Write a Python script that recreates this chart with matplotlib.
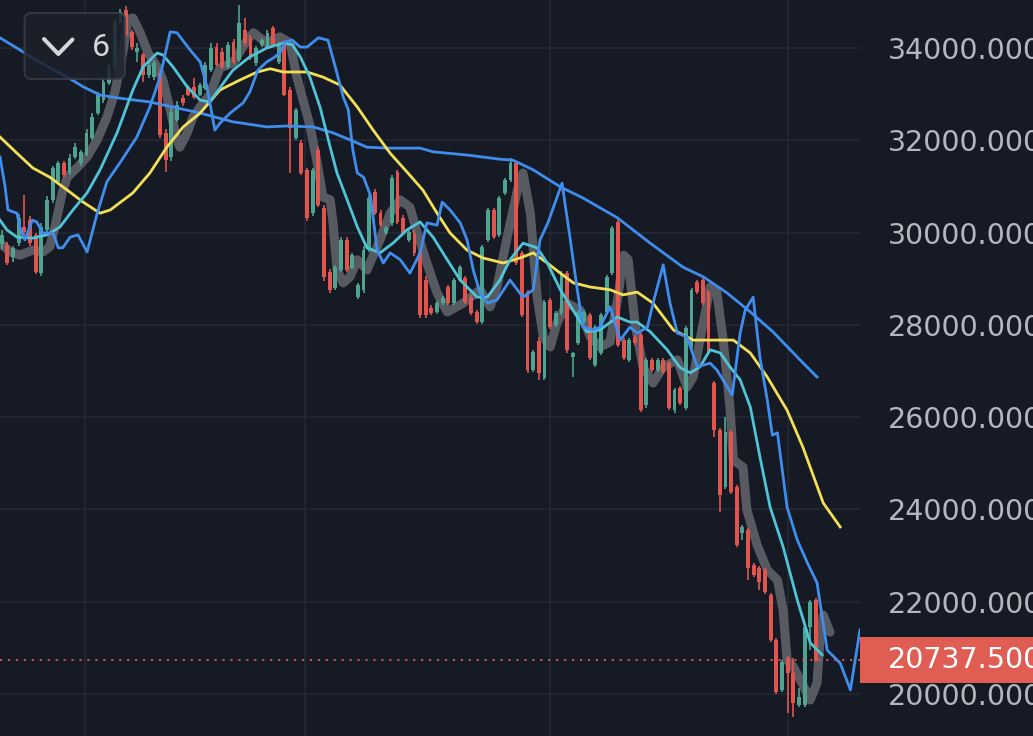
import matplotlib
matplotlib.use("Agg")
import matplotlib.pyplot as plt
from matplotlib.patches import Rectangle, FancyBboxPatch
from matplotlib.lines import Line2D
import matplotlib.transforms as mtransforms

# --- candles (open, high, low, close), one per bar ---
opens = [29750, 29730, 29470, 29770, 30120, 30270, 29950, 29120, 30060, 30710,
         31100, 31510, 31310, 31640, 31510, 31680, 32050, 32590, 32870, 33240,
         33590, 34540, 34820, 34350, 33910, 33850, 33420, 33370, 33460, 32160,
         31640, 32440, 32920, 33150, 33160, 32980, 33130, 33520, 34020, 33910,
         33590, 34130, 33740, 34390, 34220, 33680, 34070, 34020, 34430, 33700,
         34110, 33090, 32050, 31940, 31360, 30420, 31790, 30530, 29150, 28800,
         29190, 29840, 29230, 28600, 28760, 29620, 30880, 30420, 29990, 30210,
         31310, 30320, 29840, 29990, 29580, 28970, 28370, 28280, 28470, 28820,
         28470, 28970, 29020, 28600, 28280, 28060, 29840, 30490, 29950, 30860,
         31140, 31510, 29560, 28710, 27020, 27650, 26850, 28540, 28000, 28260,
         29120, 27300, 27610, 28060, 28210, 27130, 27390, 28280, 29120, 30230,
         27670, 27240, 27740, 27780, 26260, 27240, 27020, 27240, 27170, 26150,
         26630, 26200, 27520, 28930, 28970, 28710, 26740, 25720, 24490, 25680,
         24490, 23490, 23550, 22800, 22730, 22690, 22150, 21170, 20090, 20780,
         20460, 19760, 19760, 21450, 22040]
highs = [30050, 29800, 29700, 30400, 30810, 30350, 30000, 30200, 30800, 31450,
         31550, 31550, 31700, 31950, 31800, 32250, 32600, 33050, 33350, 33650,
         34600, 34850, 34900, 34400, 34110, 33900, 33700, 33750, 33550, 32250,
         32700, 32850, 32980, 33200, 33350, 33250, 33700, 34100, 34100, 34000,
         34130, 34200, 34930, 34650, 34280, 34050, 34220, 34400, 34480, 34130,
         34160, 33150, 32700, 32000, 31400, 31400, 31850, 30600, 29200, 29300,
         29900, 29900, 29560, 28900, 29700, 30820, 30950, 30480, 30150, 31250,
         31350, 30380, 30060, 30050, 29650, 29050, 28420, 28520, 28620, 28870,
         29020, 29300, 29060, 28650, 28320, 29740, 30540, 30540, 30800, 31190,
         31620, 31560, 29610, 28760, 27460, 27740, 28540, 28580, 28300, 29170,
         29170, 27410, 28320, 28320, 28260, 28000, 28260, 29080, 30140, 30280,
         27720, 27720, 27780, 27830, 27280, 27280, 27280, 27280, 27220, 26630,
         26680, 27980, 28800, 28970, 29020, 28760, 26780, 25760, 26000, 25720,
         24530, 23660, 23600, 22840, 22780, 22730, 22190, 21210, 20740, 20830,
         20780, 20130, 21500, 22040, 22080]
lows = [29650, 29300, 29360, 29700, 29950, 29700, 29100, 29050, 30000, 30650,
        31050, 31200, 31250, 31600, 31450, 31650, 32000, 32550, 32800, 33200,
        33550, 34500, 34250, 33950, 33700, 33260, 33350, 33300, 32050, 31310,
        31550, 32400, 32750, 32950, 32900, 32950, 33100, 33480, 33600, 33550,
        33550, 33650, 33700, 34050, 33750, 33620, 34020, 33980, 34020, 33650,
        32950, 31290, 32000, 31250, 30250, 30350, 30550, 28950, 28700, 28750,
        29150, 29150, 29200, 28550, 28700, 29580, 30380, 30120, 29950, 30150,
        30180, 29950, 29790, 29500, 28150, 28150, 28210, 28230, 28430, 28430,
        28430, 28930, 28450, 28210, 28020, 28020, 29790, 29860, 29900, 30810,
        31090, 29290, 28160, 26950, 26970, 26800, 26800, 27900, 27950, 28210,
        27400, 26870, 27560, 28020, 27230, 27080, 27340, 28230, 29080, 27520,
        27240, 27190, 27560, 26110, 26200, 26980, 26980, 26940, 26150, 26100,
        26260, 26150, 27470, 28670, 28430, 27360, 25570, 23940, 24440, 24330,
        23190, 23340, 22470, 22530, 22250, 22160, 21120, 20000, 20040, 19590,
        19500, 19720, 19720, 20950, 20700]
closes = [29950, 29340, 29660, 30320, 30010, 29770, 29150, 30120, 30710, 31400,
          31510, 31250, 31620, 31850, 31750, 32160, 32500, 32980, 33260, 33590,
          34540, 34780, 34280, 34020, 34000, 33420, 33630, 33680, 32110, 31570,
          32610, 32760, 32810, 32980, 32940, 33200, 33630, 34000, 33630, 33590,
          34070, 33700, 34540, 34110, 33780, 34000, 34170, 34330, 34070, 34070,
          32980, 32270, 32660, 31290, 30320, 31360, 30600, 29040, 28760, 29250,
          29840, 29190, 29510, 28860, 29620, 30750, 30420, 30160, 30100, 31180,
          30230, 29990, 30010, 29560, 28210, 28210, 28260, 28470, 28580, 28470,
          28970, 29250, 28500, 28260, 28060, 29690, 30490, 29900, 30750, 31140,
          31510, 29340, 28210, 27020, 27410, 26950, 28500, 27950, 28260, 29120,
          27460, 27400, 28280, 28280, 27280, 27950, 28210, 29040, 30100, 27560,
          27280, 27670, 27610, 26150, 27240, 27020, 27240, 26980, 26200, 26590,
          26310, 27930, 28760, 28710, 28470, 27410, 25720, 24310, 25680, 24380,
          23230, 23620, 22730, 22580, 22430, 22210, 21170, 20040, 20690, 20460,
          19810, 19940, 21450, 21990, 20737.5]
last_price = 20737.5

# --- moving averages, (bar, price) vertices ---
gray_ma = [(-0.3, 29770), (1.5, 29580), (3.2, 29510), (5.5, 29620), (7.3, 29580),
           (8.5, 29690), (9.4, 30120), (10.7, 30860), (11.6, 31200), (13.3, 31400),
           (15.1, 31640), (16.9, 32010), (18.6, 32500), (20.0, 33030), (21.5, 33960),
           (22.3, 34610), (23.2, 34650), (24.5, 34330), (25.9, 33890), (27.5, 33590),
           (28.5, 33310), (29.8, 32660), (31.0, 32010), (31.5, 31850), (32.8, 32160),
           (33.8, 32500), (35.6, 32810), (36.8, 32980), (38.6, 33570), (40.9, 33680),
           (43.4, 34170), (44.5, 34330), (46.9, 34110), (49.2, 34240), (51.0, 34110),
           (52.2, 33370), (53.3, 32870), (54.5, 32330), (55.8, 31510), (56.8, 30770),
           (58.1, 30710), (58.6, 30210), (59.3, 29190), (60.4, 28910), (61.6, 29040),
           (62.9, 29410), (64.6, 29190), (66.9, 29840), (68.7, 30420), (70.5, 30710),
           (72.2, 30550), (73.5, 29990), (75.2, 29340), (77.0, 28690), (78.8, 28280),
           (81.6, 28470), (84.6, 28760), (86.4, 28390), (87.6, 28820), (89.4, 29900),
           (91.2, 30920), (92.2, 31290), (93.5, 30420), (94.7, 28600), (95.8, 27740),
           (97.0, 27520), (98.2, 28040), (100.0, 28470), (102.3, 28320), (104.1, 27740),
           (105.8, 27520), (107.6, 27630), (108.9, 28540), (110.0, 29510), (110.8, 29410),
           (112.0, 28040), (113.4, 27090), (115.2, 26740), (117.0, 27090), (119.5, 27240),
           (121.2, 26650), (122.3, 26870), (123.5, 27670), (125.3, 28820), (126.5, 28690),
           (127.6, 27670), (128.8, 26220), (129.4, 25070), (131.1, 24920), (131.8, 23990),
           (133.6, 23230), (135.4, 22690), (137.2, 22470), (138.2, 21820), (138.9, 20740),
           (140.0, 20590), (141.7, 20200), (143.0, 19870), (144.2, 20240), (144.8, 21320),
           (145.3, 21710), (146.5, 21340)]

cyan_ma = [(-0.3, 30270), (0.9, 30060), (2.7, 29900), (5.5, 29880), (8.0, 29950),
           (10.3, 30120), (12.6, 30490), (15.1, 30860), (17.4, 31360), (20.4, 32160),
           (23.2, 33090), (25.0, 33590), (27.5, 33890), (28.5, 33850), (30.3, 33590),
           (32.8, 33160), (35.1, 32870), (36.8, 32830), (39.2, 33240), (40.9, 33520),
           (43.9, 33810), (46.9, 34000), (49.8, 34110), (51.4, 34070), (52.8, 33810),
           (54.5, 33370), (56.3, 32720), (58.1, 31850), (59.3, 31290), (61.1, 30710),
           (62.9, 30120), (64.6, 29670), (66.9, 29560), (69.2, 29770), (71.7, 30060),
           (74.0, 30230), (76.3, 29900), (78.8, 29410), (81.1, 28970), (84.1, 28600),
           (85.9, 28600), (88.1, 28970), (89.9, 29410), (92.2, 29770), (94.7, 29670),
           (96.5, 29340), (98.8, 28760), (101.8, 28170), (103.5, 27850), (105.8, 27890),
           (108.9, 28170), (111.1, 28060), (112.4, 28060), (114.7, 27850), (117.7, 27460),
           (120.0, 27070), (121.8, 26960), (123.5, 27090), (125.3, 27460), (127.1, 27390),
           (128.8, 27090), (130.6, 26810), (132.4, 26220), (134.1, 25140), (135.9, 24050),
           (138.2, 23190), (140.7, 22040), (143.0, 21110), (145.1, 20850)]

yellow_ma = [(-0.3, 32070), (2.7, 31720), (5.5, 31400), (8.5, 31200), (11.6, 30920),
             (14.4, 30660), (17.4, 30420), (19.2, 30490), (23.2, 30860), (26.2, 31290),
             (29.2, 31850), (32.1, 32290), (35.1, 32590), (38.6, 33090), (42.2, 33310),
             (45.2, 33480), (47.5, 33550), (49.8, 33480), (54.0, 33480), (56.8, 33370),
             (59.8, 33200), (62.9, 32720), (65.7, 32220), (68.7, 31720), (71.7, 31310),
             (74.5, 30920), (77.0, 30420), (79.3, 29990), (82.3, 29620), (85.1, 29450),
             (88.7, 29340), (91.7, 29450), (94.0, 29560), (96.5, 29340), (98.8, 29120),
             (101.1, 28910), (104.1, 28820), (107.6, 28760), (109.9, 28650), (112.4, 28710),
             (115.2, 28470), (118.8, 27890), (122.3, 27670), (125.3, 27670), (129.4, 27670),
             (132.4, 27390), (135.4, 26870), (138.9, 26150), (141.7, 25350), (145.3, 24140),
             (148.3, 23620)]

blue_slow_ma = [(-0.3, 34220), (3.2, 33960), (5.5, 33780), (8.5, 33570), (11.6, 33370),
                (14.4, 33160), (17.4, 32980), (20.4, 32920), (26.2, 32830), (30.3, 32720),
                (35.1, 32590), (40.9, 32400), (46.9, 32290), (50.5, 32310), (55.1, 32290),
                (58.6, 32160), (61.6, 32010), (64.6, 31850), (68.2, 31830), (74.0, 31830),
                (76.3, 31750), (82.3, 31680), (88.1, 31590), (90.4, 31570), (94.0, 31360),
                (98.8, 30990), (102.8, 30750), (108.9, 30320), (114.7, 29770), (120.5, 29250),
                (124.1, 29040), (128.3, 28690), (132.4, 28280), (136.4, 27850), (141.2, 27240),
                (144.2, 26870)]

blue_fast_ma = [(-0.3, 31640), (0.6, 30990), (1.1, 30490), (2.7, 30420), (3.2, 30120),
                (4.1, 29840), (5.4, 30270), (6.2, 30230), (7.3, 29990), (9.1, 29990),
                (10.0, 29670), (10.8, 29670), (12.1, 29900), (13.5, 29950), (15.1, 29580),
                (16.9, 30420), (18.6, 31100), (20.9, 31510), (23.9, 32070), (26.2, 32720),
                (28.0, 33370), (29.8, 34350), (31.0, 34330), (33.3, 33960), (35.1, 33700),
                (36.3, 33160), (37.7, 32220), (38.6, 32370), (40.4, 32590), (42.7, 32810),
                (43.9, 33050), (45.3, 33520), (46.9, 33700), (48.0, 33780), (49.2, 33890),
                (50.1, 34130), (51.4, 34170), (52.8, 34020), (54.0, 34020), (56.0, 34220),
                (57.7, 34170), (59.0, 33590), (60.4, 32940), (61.3, 32660), (62.1, 31790),
                (62.9, 31290), (64.0, 31200), (65.2, 30810), (66.4, 29620), (67.5, 29340),
                (68.7, 29560), (70.5, 29410), (72.2, 29120), (74.0, 29560), (75.2, 30210),
                (77.0, 30160), (77.9, 30660), (79.3, 30490), (81.1, 30210), (82.3, 29840),
                (83.4, 29190), (84.6, 28690), (85.9, 28470), (87.6, 28540), (89.9, 28970),
                (92.2, 28600), (94.0, 28760), (95.2, 29840), (96.6, 30210), (99.1, 31070),
                (100.5, 29900), (101.8, 28760), (102.8, 27950), (104.6, 27890), (105.8, 27950),
                (107.6, 28390), (109.4, 27670), (111.1, 27950), (112.4, 27820), (114.2, 27950),
                (115.2, 28470), (117.0, 29300), (118.2, 28470), (119.5, 27820), (121.2, 27740),
                (123.0, 27090), (125.3, 27170), (126.5, 27020), (129.2, 26480), (130.6, 27820),
                (131.5, 28320), (132.9, 28600), (134.1, 27300), (135.4, 26370), (136.3, 25610),
                (137.2, 25660), (138.9, 24050), (140.7, 23340), (142.5, 22840), (144.2, 22410),
                (146.0, 20950), (148.3, 20670), (150.1, 20090), (151.8, 21390)]

price_ticks = [20000, 22000, 24000, 26000, 28000, 30000, 32000, 34000]
time_grid = [14.7, 53.7, 97.0, 139.1]

# --- couleurs ---
bg = "#161a25"
grid_col = "#252935"
up_col = "#4fa391"
down_col = "#e0564e"
label_col = "#b4b7c0"
axis_font = ["DejaVu Sans"]
ui_font = ["Roboto", "DejaVu Sans"]

fig = plt.figure(figsize=(10.33, 7.36), dpi=100, facecolor=bg)
ax = fig.add_axes([0, 0, 860 / 1033, 1])
ax.set_facecolor(bg)

# candles
n = len(opens)
xs = list(range(n))
colors = [up_col if c >= o else down_col for o, c in zip(opens, closes)]
bottoms = [min(o, c) for o, c in zip(opens, closes)]
heights = [max(abs(c - o), 25) for o, c in zip(opens, closes)]

# gray thick line sits behind the candles
gx, gy = zip(*gray_ma)
ax.plot(gx, gy, color="#5c5e66", lw=6.5, solid_joinstyle="round",
        solid_capstyle="round", zorder=1, alpha=0.95)

ax.vlines(xs, lows, highs, colors=colors, lw=1.2, zorder=2)
ax.bar(xs, heights, bottom=bottoms, width=0.68, color=colors, zorder=3, linewidth=0)

for pts, col in [(blue_slow_ma, "#3f8ded"), (yellow_ma, "#f3df56"),
                 (cyan_ma, "#4fc4d6"), (blue_fast_ma, "#3f8ded")]:
    lx, ly = zip(*pts)
    ax.plot(lx, ly, color=col, lw=2.0, zorder=4, solid_joinstyle="round")

# last price dotted line
ax.axhline(last_price, color=down_col, lw=1.3, ls=(0, (1.2, 3.2)), zorder=5)

ax.set_xlim(-0.3, 151.8)
ax.set_ylim(19090, 35040)

# grid
ax.set_yticks(price_ticks)
ax.set_xticks(time_grid)
ax.grid(True, color=grid_col, lw=1.1)
ax.set_axisbelow(True)
for s in ax.spines.values():
    s.set_visible(False)
ax.tick_params(axis="x", length=0, labelbottom=False)
ax.tick_params(axis="y", length=0, left=False, labelleft=False,
               right=False, labelright=True, pad=20, labelsize=20.5, labelcolor=label_col)
ax.set_yticklabels([f"{p:.3f}" for p in price_ticks], family=axis_font)

# red box with the last price
blend = mtransforms.blended_transform_factory(fig.transFigure, ax.transData)
fig.add_artist(Rectangle((860 / 1033, last_price - 500), 200 / 1033, 1000,
                         transform=blend, facecolor="#e05d54", edgecolor="none"))
fig.text(888 / 1033, last_price, f"{last_price:.3f}", transform=blend,
         color="white", fontsize=20.5, family=axis_font, va="center", ha="left")

# petit bouton en haut a gauche
fig.add_artist(FancyBboxPatch((0.245, 6.57), 1.005, 0.66,
                              boxstyle="round,pad=0,rounding_size=0.07",
                              transform=fig.dpi_scale_trans,
                              facecolor="#1c202b", edgecolor="#3a3e49",
                              lw=1.4, alpha=0.85))
fig.add_artist(Line2D([0.44, 0.583, 0.725], [6.97, 6.82, 6.965],
                      transform=fig.dpi_scale_trans, color="#d6d7dc", lw=2.9,
                      solid_capstyle="round", solid_joinstyle="round"))
fig.text(1.005, 6.88, "6", transform=fig.dpi_scale_trans, color="#d6d7dc",
         fontsize=23, family=ui_font, ha="center", va="center")

fig.savefig("out.png", dpi=100, facecolor=bg)
